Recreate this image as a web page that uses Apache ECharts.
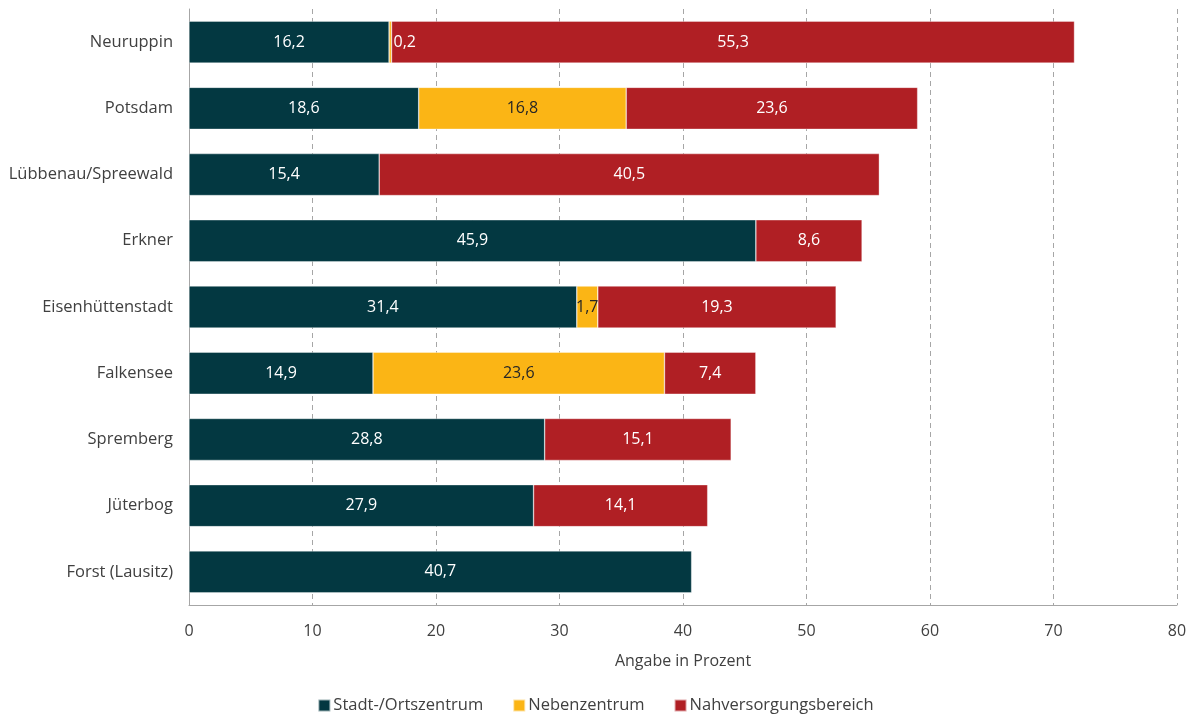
<!DOCTYPE html>
<html><head><meta charset="utf-8">
<script src="https://cdn.jsdelivr.net/npm/echarts@6/dist/echarts.min.js"></script>
<style>html,body{margin:0;padding:0;background:#fff}#c{width:1191px;height:716px}</style>
</head><body><div id="c"></div>
<script>
const categories = ['Neuruppin','Potsdam','Lübbenau/Spreewald','Erkner','Eisenhüttenstadt','Falkensee','Spremberg','Jüterbog','Forst (Lausitz)'];
const stadtzentrum = [16.2,18.6,15.4,45.9,31.4,14.9,28.8,27.9,40.7];
const nebenzentrum = [0.2,16.8,null,null,1.7,23.6,null,null,null];
const nahversorgung = [55.3,23.6,40.5,8.6,19.3,7.4,15.1,14.1,null];
const seriesNames = ['Stadt-/Ortszentrum','Nebenzentrum','Nahversorgungsbereich'];
const xTicks = [0,10,20,30,40,50,60,70,80];

const FONT = 'Open Sans';
const fmt = p => p.value == null ? '' : String(p.value).replace('.', ',');
const colors = ['#033841','#FBB515','#B01F24'];
const labelColors = ['#ffffff','#262626','#ffffff'];
const itemStyle = {borderColor:'rgba(255,255,255,0.6)', borderWidth:0.6};

function mk(name, data, idx){
  return {
    name, type:'bar', stack:'total', data: data.map((v,i)=>{
      if (idx===1 && i===0) return {value:v, label:{position:'right', distance:2, color:'#ffffff'}};
      return v;
    }),
    barWidth: 42,
    itemStyle: Object.assign({color:colors[idx]}, itemStyle),
    label:{show:true, position:'inside', formatter:fmt, color:labelColors[idx], fontFamily:FONT, fontSize:16},
    emphasis:{disabled:true}
  };
}

const chart = echarts.init(document.getElementById('c'), null, {renderer:'canvas'});
chart.setOption({
  animation:false,
  color: colors,
  grid:{left:189, right:14, top:9, bottom:111, containLabel:false},
  xAxis:{
    type:'value', min:0, max:80, interval:10,
    axisLine:{show:true, lineStyle:{color:'#a6a6a6'}},
    axisTick:{show:false},
    axisLabel:{color:'#404040', fontFamily:FONT, fontSize:16, margin:18,
      formatter: v => xTicks.includes(v) ? String(v) : ''},
    splitLine:{show:true, lineStyle:{color:'#a6a6a6', type:[5,4], width:1}},
    name:'Angabe in Prozent', nameLocation:'middle', nameGap:48,
    nameTextStyle:{color:'#404040', fontFamily:FONT, fontSize:16}
  },
  yAxis:{
    type:'category', data:categories, inverse:true,
    axisLine:{show:true, lineStyle:{color:'#a6a6a6'}},
    axisTick:{show:false},
    axisLabel:{color:'#404040', fontFamily:FONT, fontSize:16.5, margin:16}
  },
  legend:{
    bottom:2, left:'center', padding:0, itemWidth:12, itemHeight:12, itemGap:29,
    icon:'rect',
    textStyle:{color:'#404040', fontFamily:FONT, fontSize:16.5, padding:[0,0,0,-2]},
    data: seriesNames
  },
  series:[mk(seriesNames[0], stadtzentrum, 0), mk(seriesNames[1], nebenzentrum, 1), mk(seriesNames[2], nahversorgung, 2)]
});
</script></body></html>
